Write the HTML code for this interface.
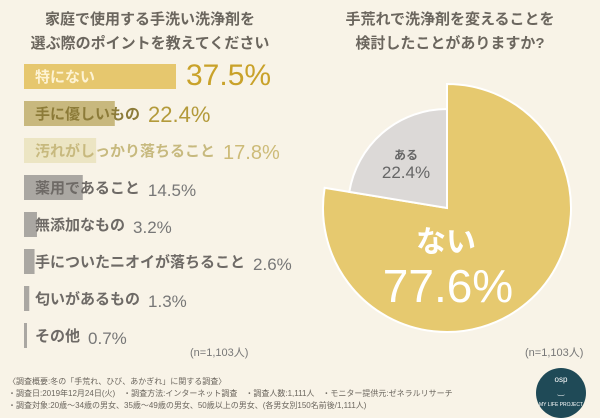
<!DOCTYPE html>
<html><head><meta charset="utf-8">
<style>
body{margin:0;width:600px;height:415px;background:#f8f3e7;overflow:hidden;font-family:"Liberation Sans","Noto Sans CJK JP",sans-serif;position:relative}
.t{position:absolute;white-space:nowrap}
</style></head><body>
<div class="t" style="left:0;width:300px;top:8px;text-align:center;font-size:15px;line-height:24px;color:#6b665e;font-weight:bold">家庭で使用する手洗い洗浄剤を<br>選ぶ際のポイントを教えてください</div>
<div class="t" style="left:300px;width:300px;top:8px;text-align:center;font-size:15px;line-height:24px;color:#6b665e;font-weight:bold">手荒れで洗浄剤を変えることを<br>検討したことがありますか?</div>
<svg id="bars" width="600" height="415" style="position:absolute;left:0;top:0"></svg>
<div class="t" style="left:190px;top:344px;font-size:11px;color:#777">(n=1,103人)</div>
<div class="t" style="left:525px;top:344px;font-size:11px;color:#777">(n=1,103人)</div>
<div class="t" style="left:8px;top:376px;font-size:8px;line-height:12px;color:#6b665e">〈調査概要:冬の「手荒れ、ひび、あかぎれ」に関する調査〉<br>・調査日:2019年12月24日(火)　・調査方法:インターネット調査　・調査人数:1,111人　・モニター提供元:ゼネラルリサーチ<br>・調査対象:20歳〜34歳の男女、35歳〜49歳の男女、50歳以上の男女、(各男女別150名前後/1,111人)</div>
<div style="position:absolute;left:536px;top:368px;width:50px;height:50px;border-radius:50%;background:#1f4a57;color:#fff;font-size:8px;text-align:center;line-height:12px;padding-top:6px;box-sizing:border-box">osp<br>‿<br><span style="font-size:5px">MY LIFE PROJECT</span></div>
<script>
const categories=["特にない","手に優しいもの","汚れがしっかり落ちること","薬用であること","無添加なもの","手についたニオイが落ちること","匂いがあるもの","その他"];
const values=[37.5,22.4,17.8,14.5,3.2,2.6,1.3,0.7];
const valueLabels=["37.5%","22.4%","17.8%","14.5%","3.2%","2.6%","1.3%","0.7%"];
const pieCategories=["ない","ある"];
const pieValues=[77.6,22.4];
const pieLabels=["77.6%","22.4%"];
const NS="http://www.w3.org/2000/svg";
const svg=document.getElementById('bars');
function mk(tag,attrs,parent){const e=document.createElementNS(NS,tag);for(const k in attrs)e.setAttribute(k,attrs[k]);(parent||svg).appendChild(e);return e;}
const x0=24,pxPer=152/37.5;
const xs=v=>v*pxPer;
const rowY=i=>64+i*37;
const barFill=["#e6c76e","#c8b87e","#ece5c3","#aaa7a2","#aaa7a2","#aaa7a2","#aaa7a2","#aaa7a2"];
const labCol=["#fdf3d4","#8c7b38","#c7b97e","#6e6a66","#6e6a66","#6e6a66","#6e6a66","#6e6a66"];
const pctCol=["#c9a22a","#b39a3a","#cdbb78","#777","#777","#777","#777","#777"];
const pctSize=[30,22,20,17,17,17,17,17];
categories.forEach((c,i)=>{
  const y=rowY(i);
  const w=Math.max(3,xs(values[i]));
  const r=mk('rect',{x:x0,y:y,width:w,height:25,fill:barFill[i]});
  
  
  const t=mk('text',{x:x0+11,y:y+18,'font-size':15,'font-weight':'bold',fill:labCol[i]});
  t.textContent=c;
  
  
  const lw=t.getComputedTextLength();
  const px=Math.max(x0+w+10,x0+11+lw+8);
  const p=mk('text',{x:px,y:y+21,'font-size':pctSize[i],fill:pctCol[i]});
  p.textContent=valueLabels[i];
  
  
});
// pie
const cx=447,cy=208,R=124,r2=99;
function pt(a,rad){return [cx+rad*Math.sin(a),cy-rad*Math.cos(a)];}
const total=pieValues.reduce((a,b)=>a+b,0);
let a0=0;
const radii=[R,r2],fills=["#e6c96f","#dcd9d7"];
pieValues.forEach((v,i)=>{
  const a1=a0+v/total*2*Math.PI;
  const rad=radii[i];
  const [sx,sy]=pt(a0,rad),[ex,ey]=pt(a1,rad);
  const large=(a1-a0)>Math.PI?1:0;
  const p=mk('path',{d:`M${cx},${cy} L${sx},${sy} A${rad},${rad} 0 ${large} 1 ${ex},${ey} Z`,fill:fills[i],stroke:'#fff','stroke-width':2});
  
  
  a0=a1;
});
const l1=mk('text',{x:446,y:252,'font-size':30,'font-weight':'bold',fill:'#fff','text-anchor':'middle'});l1.textContent=pieCategories[0];


const v1=mk('text',{x:448,y:302,'font-size':46,fill:'#fff','text-anchor':'middle'});v1.textContent=pieLabels[0];


const l2=mk('text',{x:406,y:159,'font-size':12,'font-weight':'bold',fill:'#666','text-anchor':'middle'});l2.textContent=pieCategories[1];


const v2=mk('text',{x:406,y:178,'font-size':17,fill:'#666','text-anchor':'middle'});v2.textContent=pieLabels[1];


</script>
</body></html>
